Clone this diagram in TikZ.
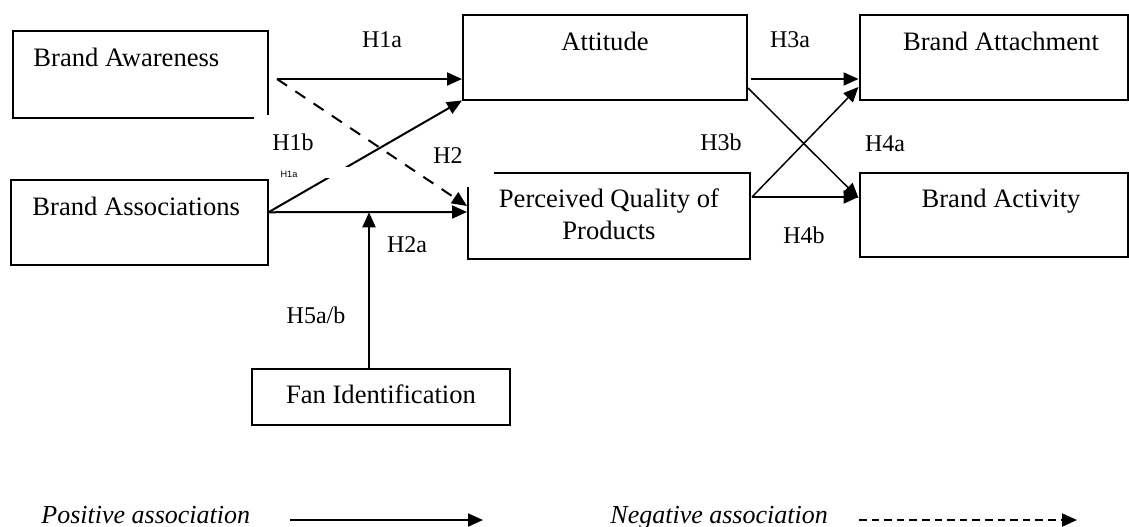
\documentclass[tikz,border=0pt]{standalone}
\usepackage{fontspec}
\setmainfont{Liberation Serif}
\newfontfamily\smallsans{Liberation Sans}
\usetikzlibrary{arrows.meta,calc}
\begin{document}
\begin{tikzpicture}[x=0.5pt,y=-0.5pt,
  box/.style={draw, line width=1pt, inner sep=0pt, rectangle},
  boxtext/.style={font=\fontsize{13.3}{16}\selectfont, inner sep=0pt},
  hlabel/.style={font=\fontsize{12}{14}\selectfont, inner sep=0pt, anchor=base},
  legtext/.style={font=\itshape\fontsize{13}{15}\selectfont, inner sep=0pt, anchor=base west},
  conn/.style={line width=1pt, -{Triangle[length=7.5pt,width=6.5pt]}},
  thinconn/.style={line width=0.75pt, -{Triangle[length=7.5pt,width=6.5pt]}},
  negconn/.style={line width=1pt, dash pattern=on 6pt off 5pt, -{Triangle[length=7.5pt,width=6.5pt]}},
  leglinedash/.style={line width=1pt, dash pattern=on 3.8pt off 2.5pt, -{Triangle[length=7.5pt,width=6.5pt]}},
]
\useasboundingbox (0,0) rectangle (1129,526);

% boxes
\node[box, minimum width=127.5pt, minimum height=43.25pt] (ba) at (140,74.25) {};
\node[box, minimum width=128.25pt, minimum height=42.25pt] (bas) at (139.25,222.25) {};
\node[box, minimum width=142pt, minimum height=42.25pt] (att) at (605,57.25) {};
\node[box, minimum width=141pt, minimum height=43.25pt] (pq) at (609,216) {};
\node[box, minimum width=134.25pt, minimum height=42.25pt] (bat) at (993.75,57.25) {};
\node[box, minimum width=134.25pt, minimum height=42pt] (bac) at (993.75,215) {};
\node[box, minimum width=129pt, minimum height=28pt] (fan) at (381,396.5) {};

% connection points
\coordinate (baOut) at ([xshift=4.25pt,yshift=-2.375pt]ba.east);
\coordinate (basOut) at ([yshift=5pt]bas.east);
\coordinate (fanTop) at ([xshift=-6pt]fan.north);
\coordinate (pqOut) at ([xshift=0.5pt,yshift=9.5pt]pq.east);

% connectors
\draw[conn] (baOut) -- ([yshift=-10.875pt]att.west);
\draw[negconn] (baOut) -- ([yshift=5pt]pq.west);
\draw[conn] (basOut) -- (att.south west);
\draw[conn] (basOut) -- ([yshift=2pt]pq.west);
\draw[conn] (fanTop) -- (fanTop |- basOut);
\draw[conn] ([xshift=1.5pt,yshift=-10.875pt]att.east) -- ([yshift=-10.875pt]bat.west);
\draw[thinconn] ([yshift=-15.375pt]att.east) -- ([yshift=8.5pt]bac.west);
\draw[thinconn] (pqOut) -- ([yshift=-14.875pt]bat.west);
\draw[conn] (pqOut) -- ([yshift=9pt]bac.west);

% white patches as in the original drawing
\fill[white] (325,167) rectangle (350,178);
\fill[white] (448,165) rectangle (494,187);
\fill[white] (254,115) rectangle (272,122);

% box texts
\node[boxtext, anchor=base west] (baT) at (33,66) {Brand Awareness};
\node[boxtext, anchor=base west] (basT) at (32,215) {Brand Associations};
\node[boxtext, anchor=base] (attT) at (605,50) {Attitude};
\node[boxtext, anchor=base] (batT) at (1001,50) {Brand Attachment};
\node[boxtext, align=center] (pqT) at (609,214) {Perceived Quality of\\Products};
\node[boxtext, anchor=base] (bacT) at (1001,207) {Brand Activity};
\node[boxtext, anchor=base] (fanT) at (381,403) {Fan Identification};

% hypothesis labels
\node[hlabel] (h1a) at (382,47) {H1a};
\node[hlabel] (h1b) at (293,150) {H1b};
\node[font=\smallsans\fontsize{4.6}{5}\selectfont, inner sep=0pt] (h1as) at (289,174) {H1a};
\node[hlabel] (h2) at (448,163) {H2};
\node[hlabel] (h2a) at (407,252) {H2a};
\node[hlabel] (h5) at (316,323) {H5a/b};
\node[hlabel] (h3a) at (790,47) {H3a};
\node[hlabel] (h3b) at (721,150) {H3b};
\node[hlabel] (h4a) at (885,151) {H4a};
\node[hlabel] (h4b) at (804,243) {H4b};

% legend
\node[legtext] (legP) at (41,523) {Positive association};
\node[legtext] (legN) at (610,523) {Negative association};
\coordinate (lp1) at (290,520);
\coordinate (lp2) at (483,520);
\coordinate (ln1) at (859,520);
\coordinate (ln2) at (1077,520);
\draw[conn] (lp1) -- (lp2);
\draw[leglinedash] (ln1) -- (ln2);
\end{tikzpicture}
\end{document}
